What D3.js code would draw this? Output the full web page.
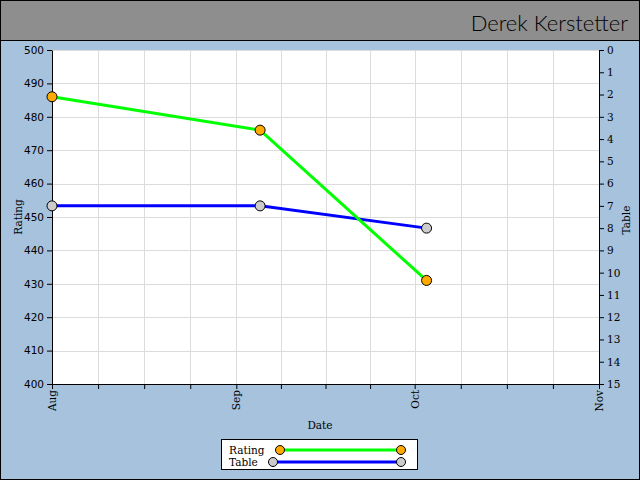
<!DOCTYPE html>
<html><head><meta charset="utf-8">
<script src="https://cdn.jsdelivr.net/npm/d3@7"></script>
<style>body{margin:0;background:#fff}svg{display:block}</style>
</head><body>
<svg id="c" width="640" height="480"></svg>
<script>
const title = "Derek Kerstetter";
const dates = ["2011-08-01", "2011-09-05", "2011-10-03"];
const ratingValues = [486, 476, 431];
const tableValues = [7, 7, 8];
const monthTicks = ["2011-08-01", "2011-09-01", "2011-10-01", "2011-11-01"];
const monthLabels = ["Aug", "Sep", "Oct", "Nov"];
const ratingTicks = d3.range(400, 501, 10);
const tableTicks = d3.range(0, 16, 1);

const parse = d3.utcParse("%Y-%m-%d");
const svg = d3.select("#c");
const W = 640, H = 480;
const L = 52, R = 599, T = 50, B = 384;

svg.append("rect").attr("x",0).attr("y",0).attr("width",W).attr("height",H).attr("fill","#a6c2dc");
svg.append("rect").attr("x",0).attr("y",0).attr("width",W).attr("height",40).attr("fill","#8e8e8e");
svg.append("line").attr("x1",0).attr("x2",W).attr("y1",40.5).attr("y2",40.5).attr("stroke","#000");
svg.append("rect").attr("x",0.5).attr("y",0.5).attr("width",W-1).attr("height",H-1).attr("fill","none").attr("stroke","#000");

svg.append("text").attr("x",628).attr("y",31).attr("text-anchor","end")
  .attr("font-family","'Comic Sans MS', Lato, sans-serif").attr("font-size",22).attr("font-weight",300).attr("fill","#000").text(title);

const x = d3.scaleUtc().domain([parse(monthTicks[0]), parse(monthTicks[3])]).range([L, R]);
const yR = d3.scaleLinear().domain([400, 500]).range([B, T]);
const yT = d3.scaleLinear().domain([0, 15]).range([T, B]);

svg.append("rect").attr("x",L).attr("y",T).attr("width",R-L).attr("height",B-T).attr("fill","#fff");

// minor ticks: quarter months
const minor = [];
for (let i = 0; i < 3; i++) {
  const a = parse(monthTicks[i]).getTime(), b = parse(monthTicks[i+1]).getTime();
  for (let k = 0; k < 4; k++) minor.push(new Date(a + (b - a) * k / 4));
}
minor.push(parse(monthTicks[3]));

const grid = svg.append("g").attr("stroke","#dcdcdc").attr("stroke-width",1);
minor.forEach(d => { const px = Math.round(x(d)) + 0.5;
  grid.append("line").attr("x1",px).attr("x2",px).attr("y1",T).attr("y2",B); });
ratingTicks.forEach(v => { const py = Math.round(yR(v)) + 0.5;
  grid.append("line").attr("x1",L).attr("x2",R).attr("y1",py).attr("y2",py); });

// axes
const serif = "'DejaVu Serif', 'Liberation Serif', serif";
const left = svg.append("g").attr("transform",`translate(${L},0)`)
  .call(d3.axisLeft(yR).tickValues(ratingTicks).tickSize(5).tickSizeOuter(0).tickFormat(d3.format("d")));
left.selectAll("text").attr("font-family","'DejaVu Sans', sans-serif").attr("font-size",10.5).attr("fill","#000");
const right = svg.append("g").attr("transform",`translate(${R},0)`)
  .call(d3.axisRight(yT).tickValues(tableTicks).tickSize(5).tickSizeOuter(0).tickFormat(d3.format("d")));
right.selectAll("text").attr("font-family",serif).attr("font-size",10.5).attr("fill","#000");
const bottom = svg.append("g").attr("transform",`translate(0,${B})`)
  .call(d3.axisBottom(x).tickValues(minor).tickSize(5).tickSizeOuter(0).tickFormat(() => ""));
const labels = svg.append("g");
monthTicks.forEach((m, i) => {
  labels.append("text").attr("transform",`translate(${x(parse(m))+4},${B+6}) rotate(-90)`)
    .attr("text-anchor","end").attr("font-family",serif).attr("font-size",10.5).attr("fill","#000").text(monthLabels[i]);
});
[left, right, bottom].forEach(g => { g.selectAll("path,line").attr("stroke","#000"); });

svg.append("text").attr("x",320).attr("y",429).attr("text-anchor","middle").attr("font-family",serif).attr("font-size",10.5).text("Date");
svg.append("text").attr("transform","translate(22,217) rotate(-90)").attr("text-anchor","middle").attr("font-family",serif).attr("font-size",10.5).text("Rating");
svg.append("text").attr("transform","translate(630,220) rotate(-90)").attr("text-anchor","middle").attr("font-family",serif).attr("font-size",10.5).text("Table");

// series
const tLine = d3.line().x((d,i) => x(parse(dates[i]))).y(d => yT(d));
const rLine = d3.line().x((d,i) => x(parse(dates[i]))).y(d => yR(d));
svg.append("path").datum(tableValues).attr("d",tLine).attr("fill","none").attr("stroke","#0000ff").attr("stroke-width",3);
svg.append("path").datum(ratingValues).attr("d",rLine).attr("fill","none").attr("stroke","#00ff00").attr("stroke-width",3);
svg.append("g").selectAll("circle").data(tableValues).join("circle")
  .attr("cx",(d,i) => x(parse(dates[i]))).attr("cy",d => yT(d)).attr("r",5)
  .attr("fill","#cccccc").attr("stroke","#000").attr("stroke-width",1);
svg.append("g").selectAll("circle").data(ratingValues).join("circle")
  .attr("cx",(d,i) => x(parse(dates[i]))).attr("cy",d => yR(d)).attr("r",5)
  .attr("fill","#ffaa00").attr("stroke","#000").attr("stroke-width",1);

// legend
const lg = svg.append("g");
lg.append("rect").attr("x",221.5).attr("y",439.5).attr("width",196).attr("height",30).attr("fill","#fff").attr("stroke","#000");
const legendItems = [
  {name:"Rating", color:"#00ff00", fill:"#ffaa00", x1:280, y:450},
  {name:"Table", color:"#0000ff", fill:"#cccccc", x1:273, y:462}
];
legendItems.forEach(it => {
  lg.append("text").attr("x",229).attr("y",it.y+4).attr("font-family",serif).attr("font-size",10.5).text(it.name);
  lg.append("line").attr("x1",it.x1).attr("x2",401).attr("y1",it.y).attr("y2",it.y).attr("stroke",it.color).attr("stroke-width",3);
  [it.x1, 401].forEach(cx => lg.append("circle").attr("cx",cx).attr("cy",it.y).attr("r",4.5).attr("fill",it.fill).attr("stroke","#000"));
});
</script>
</body></html>
